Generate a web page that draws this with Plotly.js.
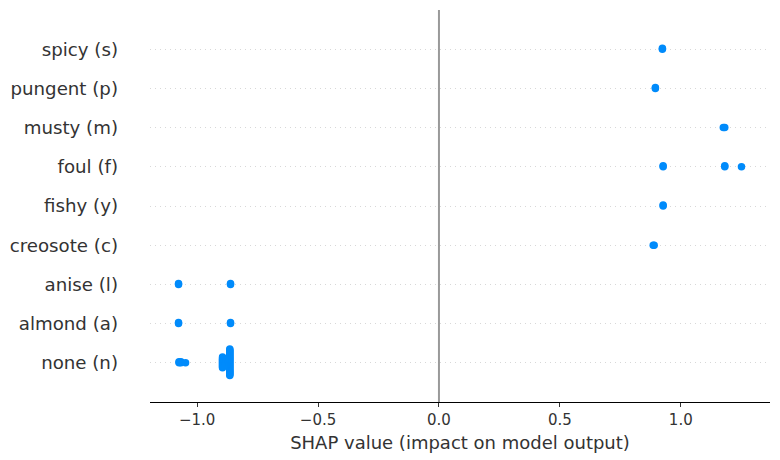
<!DOCTYPE html>
<html>
<head>
<meta charset="utf-8">
<script src="https://cdn.plot.ly/plotly-3.0.1.min.js"></script>
<style>html,body{margin:0;padding:0;background:#fff;}#chart{width:780px;height:460px;}</style>
</head>
<body>
<div id="chart"></div>
<script>
// Features, listed bottom to top
const categories = ["none (n)", "almond (a)", "anise (l)", "creosote (c)", "fishy (y)", "foul (f)", "musty (m)", "pungent (p)", "spicy (s)"];

// SHAP values per feature (distinct values) and how many samples share each
const noneValues = [-1.075, -1.067, -1.048, -0.895, -0.865];
const noneCounts = [2, 2, 1, 12, 28];
const almondValues = [-1.077, -0.862];
const almondCounts = [2, 2];
const aniseValues = [-1.077, -0.862];
const aniseCounts = [2, 2];
const creosoteValues = [0.886, 0.890];
const creosoteCounts = [1, 1];
const fishyValues = [0.927];
const fishyCounts = [2];
const foulValues = [0.927, 1.182, 1.251];
const foulCounts = [2, 2, 1];
const mustyValues = [1.176, 1.182];
const mustyCounts = [1, 1];
const pungentValues = [0.895];
const pungentCounts = [2];
const spicyValues = [0.924];
const spicyCounts = [2];

const valueSets = [noneValues, almondValues, aniseValues, creosoteValues, fishyValues, foulValues, mustyValues, pungentValues, spicyValues];
const countSets = [noneCounts, almondCounts, aniseCounts, creosoteCounts, fishyCounts, foulCounts, mustyCounts, pungentCounts, spicyCounts];

// beeswarm stacking: points sharing a value are spread vertically around the row
const step = 0.025;
const xs = [], ys = [];
valueSets.forEach((vals, row) => {
  vals.forEach((v, i) => {
    const n = countSets[row][i];
    for (let k = 0; k < n; k++) {
      const mag = Math.ceil(k / 2);
      const sign = (k % 2 === 1) ? 1 : -1;
      xs.push(v);
      ys.push(row + sign * mag * step);
    }
  });
});

const trace = {
  type: "scatter",
  mode: "markers",
  x: xs,
  y: ys,
  marker: {size: 7.5, color: "#008bfb", line: {width: 0}},
  hoverinfo: "skip",
  showlegend: false
};

const layout = {
  width: 780,
  height: 460,
  margin: {l: 150, r: 9.5, t: 10, b: 58},
  paper_bgcolor: "#ffffff",
  plot_bgcolor: "#ffffff",
  font: {family: "DejaVu Sans", color: "#333333"},
  xaxis: {
    range: [-1.195, 1.369],
    tickvals: [-1.0, -0.5, 0.0, 0.5, 1.0],
    ticktext: ["\u22121.0", "\u22120.5", "0.0", "0.5", "1.0"],
    showgrid: false,
    zeroline: false,
    showline: true,
    linecolor: "#000000",
    linewidth: 1,
    ticks: "outside",
    ticklen: 4,
    tickcolor: "#333333",
    tickfont: {size: 15, color: "#333333"},
    title: {text: "SHAP value (impact on model output)", font: {size: 18, color: "#333333"}, standoff: 8}
  },
  yaxis: {
    range: [-1, 9],
    tickvals: categories.map((c, i) => i),
    ticktext: categories,
    showgrid: true,
    gridcolor: "#d8d8d8",
    griddash: "1px,4px",
    gridwidth: 1,
    zeroline: false,
    showline: false,
    ticks: "",
    ticklabelstandoff: 31,
    tickfont: {size: 18.2, color: "#333333"}
  },
  shapes: [{
    type: "line", xref: "x", yref: "paper", x0: 0, x1: 0, y0: 0, y1: 1,
    line: {color: "#999999", width: 2}, layer: "below"
  }]
};

Plotly.newPlot("chart", [trace], layout, {displayModeBar: false, staticPlot: true});
</script>
</body>
</html>
